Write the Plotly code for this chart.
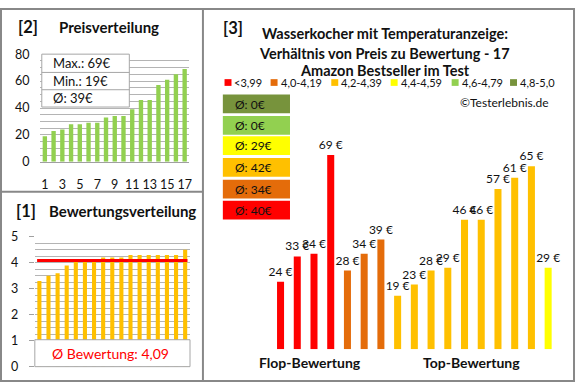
import plotly.graph_objects as go

W, H = 580, 390

# ---------------- data ----------------
rank = list(range(1, 18))
prices_sorted = [19, 23, 24, 28, 28, 29, 29, 33, 34, 34, 39, 46, 46, 57, 61, 65, 69]
ratings_sorted = [3.3, 3.5, 3.6, 3.9, 4.1, 4.1, 4.1, 4.2, 4.2, 4.2, 4.3, 4.3, 4.3, 4.3, 4.3, 4.3, 4.5]
avg_rating = 4.09
x_ticks_top = [1, 3, 5, 7, 9, 11, 13, 15, 17]

group_labels = ["<3,99", "4,0-4,19", "4,2-4,39", "4,4-4,59", "4,6-4,79", "4,8-5,0"]
group_colors = ["#FF0000", "#E46C0A", "#FFC000", "#FFFF00", "#92D050", "#77933C"]
group_avgs = [40, 34, 42, 29, 0, 0]

bar_prices = [24, 33, 34, 69, 28, 34, 39, 19, 23, 28, 29, 46, 46, 57, 61, 65, 29]
bar_groups = [0, 0, 0, 0, 1, 1, 1, 2, 2, 2, 2, 2, 2, 2, 2, 2, 3]

FONT = "Lato"
TXT = "#111111"
GRID = "#b4b4b4"
BORDER = "#888888"


def px(x):
    return x / W


def py(y):
    return 1 - y / H


fig = go.Figure()

# [2] price distribution
fig.add_trace(go.Bar(x=rank, y=prices_sorted, marker=dict(color="#92D050", line=dict(width=0)),
                     width=0.5, xaxis="x", yaxis="y", showlegend=False, hoverinfo="skip"))

# [1] rating distribution
fig.add_trace(go.Bar(x=rank, y=ratings_sorted, marker=dict(color="#FFC000", line=dict(width=0)),
                     width=0.45, xaxis="x2", yaxis="y2", showlegend=False, hoverinfo="skip"))
fig.add_trace(go.Scatter(x=[0.75, 17.25], y=[avg_rating, avg_rating], mode="lines",
                         line=dict(color="#FF0000", width=3), xaxis="x2", yaxis="y2",
                         showlegend=False, hoverinfo="skip"))

# [3] price vs rating
fig.add_trace(go.Bar(x=rank, y=bar_prices,
                     marker=dict(color=[group_colors[g] for g in bar_groups], line=dict(width=0)),
                     width=0.42, text=[f"{p} €" for p in bar_prices], textposition="outside",
                     textfont=dict(family=FONT, size=12, color=TXT), constraintext="none",
                     cliponaxis=False, xaxis="x3", yaxis="y3", showlegend=False, hoverinfo="skip"))

shapes = []
annotations = []

# panel borders
shapes.append(dict(type="rect", xref="paper", yref="paper", x0=px(1), x1=px(577), y0=py(388), y1=py(1),
                   line=dict(color=BORDER, width=2), layer="above"))
shapes.append(dict(type="line", xref="paper", yref="paper", x0=px(204), x1=px(204), y0=py(388), y1=py(1),
                   line=dict(color=BORDER, width=2), layer="above"))
shapes.append(dict(type="line", xref="paper", yref="paper", x0=px(1), x1=px(204), y0=py(191), y1=py(191),
                   line=dict(color=BORDER, width=2), layer="above"))

# stats box in [2]
shapes.append(dict(type="rect", xref="paper", yref="paper", x0=px(42), x1=px(130), y0=py(103), y1=py(48),
                   fillcolor="white", line=dict(color="#a6a6a6", width=1), layer="above"))
for yy in (67, 85):
    shapes.append(dict(type="line", xref="paper", yref="paper", x0=px(42), x1=px(130), y0=py(yy), y1=py(yy),
                       line=dict(color="#a6a6a6", width=1), layer="above"))
stats = [f"Max.: {max(prices_sorted)}€", f"Min.: {min(prices_sorted)}€",
         f"Ø: {round(sum(prices_sorted) / len(prices_sorted))}€"]
for s, yy in zip(stats, (57.5, 76, 94)):
    annotations.append(dict(x=px(51), y=py(yy), xref="paper", yref="paper", text=s, showarrow=False,
                            xanchor="left", yanchor="middle", font=dict(family=FONT, size=13, color=TXT)))

# rating box in [1]
shapes.append(dict(type="rect", xref="paper", yref="paper", x0=px(35), x1=px(191), y0=py(373), y1=py(345),
                   fillcolor="white", line=dict(color="#a6a6a6", width=1), layer="above"))
annotations.append(dict(x=px(111), y=py(359), xref="paper", yref="paper",
                        text="Ø Bewertung: " + f"{avg_rating:.2f}".replace(".", ","), showarrow=False,
                        xanchor="center", yanchor="middle", font=dict(family=FONT, size=14, color="#FF0000")))

# titles left
annotations += [
    dict(x=px(16), y=py(20), xref="paper", yref="paper", text="<b>[2]</b>", showarrow=False,
         xanchor="left", yanchor="middle", font=dict(family=FONT, size=16.5, color=TXT)),
    dict(x=px(57), y=py(20), xref="paper", yref="paper", text="<b>Preisverteilung</b>", showarrow=False,
         xanchor="left", yanchor="middle", font=dict(family=FONT, size=15, color=TXT)),
    dict(x=px(14), y=py(211), xref="paper", yref="paper", text="<b>[1]</b>", showarrow=False,
         xanchor="left", yanchor="middle", font=dict(family=FONT, size=16.5, color=TXT)),
    dict(x=px(47), y=py(211), xref="paper", yref="paper", text="<b>Bewertungsverteilung</b>", showarrow=False,
         xanchor="left", yanchor="middle", font=dict(family=FONT, size=15, color=TXT)),
]

# right panel titles
annotations.append(dict(x=px(222), y=py(21), xref="paper", yref="paper", text="<b>[3]</b>", showarrow=False,
                        xanchor="left", yanchor="middle", font=dict(family=FONT, size=16.5, color=TXT)))
for t, yy in zip(["Wasserkocher mit Temperaturanzeige:", "Verhältnis von Preis zu Bewertung - 17",
                  "Amazon Bestseller im Test"], (27, 47, 65)):
    annotations.append(dict(x=px(387), y=py(yy), xref="paper", yref="paper", text=f"<b>{t}</b>",
                            showarrow=False, xanchor="center", yanchor="middle",
                            font=dict(family=FONT, size=14.5, color=TXT)))

# legend row
sq_x = [225.7, 272, 333, 392.7, 454, 512.7]
for i, (lab, col) in enumerate(zip(group_labels, group_colors)):
    shapes.append(dict(type="rect", xref="paper", yref="paper", x0=px(sq_x[i]), x1=px(sq_x[i] + 7),
                       y0=py(81), y1=py(74), fillcolor=col, line=dict(width=0), layer="above"))
    annotations.append(dict(x=px(sq_x[i] + 8), y=py(77.5), xref="paper", yref="paper", text=lab,
                            showarrow=False, xanchor="left", yanchor="middle",
                            font=dict(family=FONT, size=11, color=TXT)))

annotations.append(dict(x=px(554), y=py(98), xref="paper", yref="paper", text="©Testerlebnis.de",
                        showarrow=False, xanchor="right", yanchor="middle",
                        font=dict(family=FONT, size=12, color=TXT)))

# average boxes (top to bottom: olive, light green, yellow, gold, orange, red)
box_tops = [90, 112.3, 133.5, 156, 178.5, 200.5]
for k, gi in enumerate([5, 4, 3, 2, 1, 0]):
    t = box_tops[k]
    shapes.append(dict(type="rect", xref="paper", yref="paper", x0=px(224), x1=px(291.5),
                       y0=py(t + 19.5), y1=py(t), fillcolor=group_colors[gi], line=dict(width=0), layer="above"))
    annotations.append(dict(x=px(234), y=py(t + 10), xref="paper", yref="paper",
                            text=f"Ø: {group_avgs[gi]}€", showarrow=False, xanchor="left", yanchor="middle",
                            font=dict(family=FONT, size=12, color=TXT)))

# flop/top labels
annotations += [
    dict(x=px(312), y=py(369), xref="paper", yref="paper", text="<b>Flop-Bewertung</b>", showarrow=False,
         xanchor="center", yanchor="middle", font=dict(family=FONT, size=14, color=TXT)),
    dict(x=px(474), y=py(369), xref="paper", yref="paper", text="<b>Top-Bewertung</b>", showarrow=False,
         xanchor="center", yanchor="middle", font=dict(family=FONT, size=14, color=TXT)),
]

tickfont = dict(family=FONT, size=12.5, color=TXT)

fig.update_layout(
    width=W, height=H, margin=dict(l=0, r=0, t=0, b=0),
    paper_bgcolor="white", plot_bgcolor="white",
    font=dict(family=FONT, color=TXT),
    showlegend=False,
    xaxis=dict(domain=[px(40.7), px(190)], range=[0.5, 17.5], tickvals=x_ticks_top, showgrid=False,
               showline=True, linecolor="#a0a0a0", linewidth=1, zeroline=False, ticks="",
               ticklabelstandoff=11, tickfont=tickfont, fixedrange=True),
    yaxis=dict(domain=[py(160), py(48)], range=[0, 80], dtick=20, showgrid=True, gridcolor=GRID, gridwidth=1,
               minor=dict(dtick=5, showgrid=True, gridcolor=GRID, gridwidth=1),
               zeroline=False, showline=False, ticks="", ticklabelstandoff=10, tickfont=tickfont,
               fixedrange=True),
    xaxis2=dict(domain=[px(35), px(190.7)], range=[0.5, 17.5], showticklabels=False, showgrid=False,
                zeroline=False, showline=False, anchor="y2", fixedrange=True),
    yaxis2=dict(domain=[py(373), py(238)], range=[0, 5], dtick=1, showgrid=True, gridcolor=GRID, gridwidth=1,
                minor=dict(dtick=0.25, showgrid=True, gridcolor=GRID, gridwidth=1),
                zeroline=False, showline=False, ticks="outside", ticklen=5, tickcolor="#a0a0a0",
                ticklabelstandoff=8, tickfont=tickfont, anchor="x2", fixedrange=True),
    xaxis3=dict(domain=[px(273.6), px(559.4)], range=[0.5, 17.5], visible=False, anchor="y3", fixedrange=True),
    yaxis3=dict(domain=[py(355), py(120.8)], range=[0, 80], visible=False, anchor="x3", fixedrange=True),
    shapes=shapes, annotations=annotations,
)

fig.write_html("out.html", config={"displayModeBar": False},
               post_script="document.body.style.margin='0';document.body.style.padding='0';")
